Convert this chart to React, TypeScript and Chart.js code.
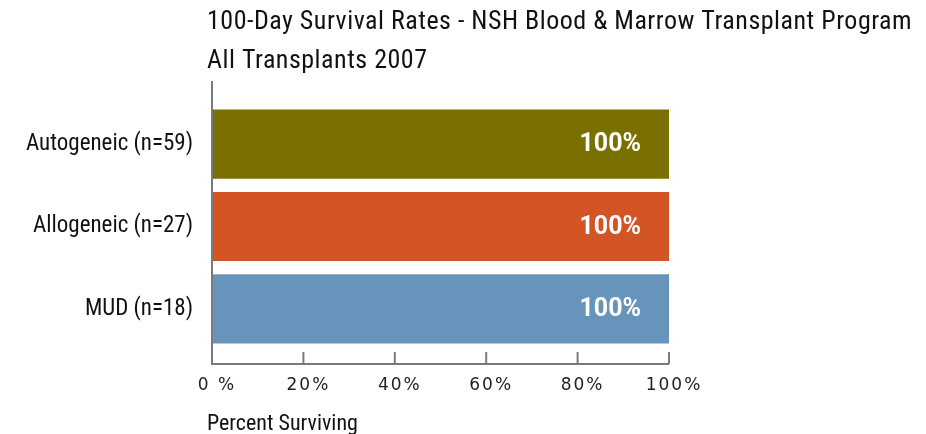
import React, { useEffect, useRef } from "react";
import { Chart, registerables } from "chart.js";

Chart.register(...registerables);

const titleLines = ["100-Day Survival Rates - NSH Blood & Marrow Transplant Program", "All Transplants 2007"];
const categories = ["Autogeneic (n=59)", "Allogeneic (n=27)", "MUD (n=18)"];
const survival = [100, 100, 100];
const barColors = ["#7a7000", "#d35425", "#6694bb"];
const xTickLabels = ["0 %", "20%", "40%", "60%", "80%", "100%"];
const xAxisTitle = "Percent Surviving";

const COND = '"Roboto Condensed", Roboto, sans-serif';
const AXIS_COLOR = "#7a7a7a";

const framePlugin = {
  id: "frame",
  afterDatasetsDraw(chart: any) {
    const { ctx, chartArea } = chart;
    const x = chart.scales.x;
    ctx.save();
    ctx.strokeStyle = AXIS_COLOR;
    ctx.lineWidth = 2;
    const baseY = chartArea.bottom + 14;
    ctx.beginPath();
    ctx.moveTo(chartArea.left, chartArea.top - 22);
    ctx.lineTo(chartArea.left, baseY);
    ctx.lineTo(chartArea.right, baseY);
    ctx.stroke();
    x.ticks.forEach((t: any) => {
      const px = x.getPixelForValue(t.value);
      ctx.beginPath();
      ctx.moveTo(px, baseY - 12);
      ctx.lineTo(px, baseY);
      ctx.stroke();
    });
    // data labels
    const meta = chart.getDatasetMeta(0);
    ctx.fillStyle = "#ffffff";
    ctx.font = "bold 25px Roboto, sans-serif";
    ctx.textAlign = "right";
    ctx.textBaseline = "middle";
    meta.data.forEach((bar: any, i: number) => {
      ctx.fillText(`${survival[i]}%`, bar.x - 28, bar.y + 1);
    });
    // titles
    ctx.fillStyle = "#111111";
    ctx.textAlign = "left";
    ctx.textBaseline = "alphabetic";
    ctx.font = `26px ${COND}`;
    (ctx as any).letterSpacing = "0.5px";
    titleLines.forEach((line, i) => {
      ctx.fillText(line, chartArea.left - 5, 29 + i * 39);
    });
    (ctx as any).letterSpacing = "0px";
    ctx.font = `22px ${COND}`;
    ctx.fillText(xAxisTitle, chartArea.left - 5, 430);
    ctx.restore();
  },
};

export default function App() {
  const ref = useRef<HTMLCanvasElement>(null);
  useEffect(() => {
    const canvas = ref.current!;
    const chart = new Chart(canvas, {
      type: "bar",
      data: {
        labels: categories,
        datasets: [
          {
            data: survival,
            backgroundColor: barColors,
            borderWidth: 0,
            barPercentage: 0.84,
            categoryPercentage: 1,
          },
        ],
      },
      options: {
        indexAxis: "y",
        animation: false,
        responsive: true,
        maintainAspectRatio: false,
        layout: { padding: { top: 103, right: 257, bottom: 0, left: 0 } },
        plugins: {
          legend: { display: false },
          tooltip: { enabled: false },
          title: { display: false },
        },
        scales: {
          x: {
            type: "linear",
            min: 0,
            max: 100,
            ticks: {
              stepSize: 20,
              padding: 25,
              color: "#222",
              font: { family: '"DejaVu Sans", sans-serif', size: 17 },
              callback: (_v: any, i: number) => xTickLabels[i],
              maxRotation: 0,
            },
            grid: { display: false, drawTicks: false, tickLength: 0 },
            border: { display: false },
            afterFit: (s: any) => {
              s.height = 84;
            },
          },
          y: {
            ticks: {
              padding: 19,
              color: "#111",
              font: { family: COND, size: 23 },
            },
            grid: { display: false, drawTicks: false, tickLength: 0 },
            border: { display: false },
            afterFit: (s: any) => {
              s.width = 212;
            },
          },
        },
      },
      plugins: [
        framePlugin,
        {
          id: "spacing",
          afterLayout(chart: any) {
            const sx = chart.scales.x;
            if (sx._spaced) return;
            const orig = sx.drawLabels.bind(sx);
            sx.drawLabels = (area: any) => {
              const c = chart.ctx;
              c.save();
              (c as any).letterSpacing = "2px";
              c.translate(5, 0);
              orig(area);
              c.restore();
            };
            sx._spaced = true;
          },
        },
      ],
    });
    return () => chart.destroy();
  }, []);
  return (
    <div style={{ position: "absolute", left: 0, top: 0, width: 926, height: 434, background: "#fff" }}>
      <canvas ref={ref} />
    </div>
  );
}
